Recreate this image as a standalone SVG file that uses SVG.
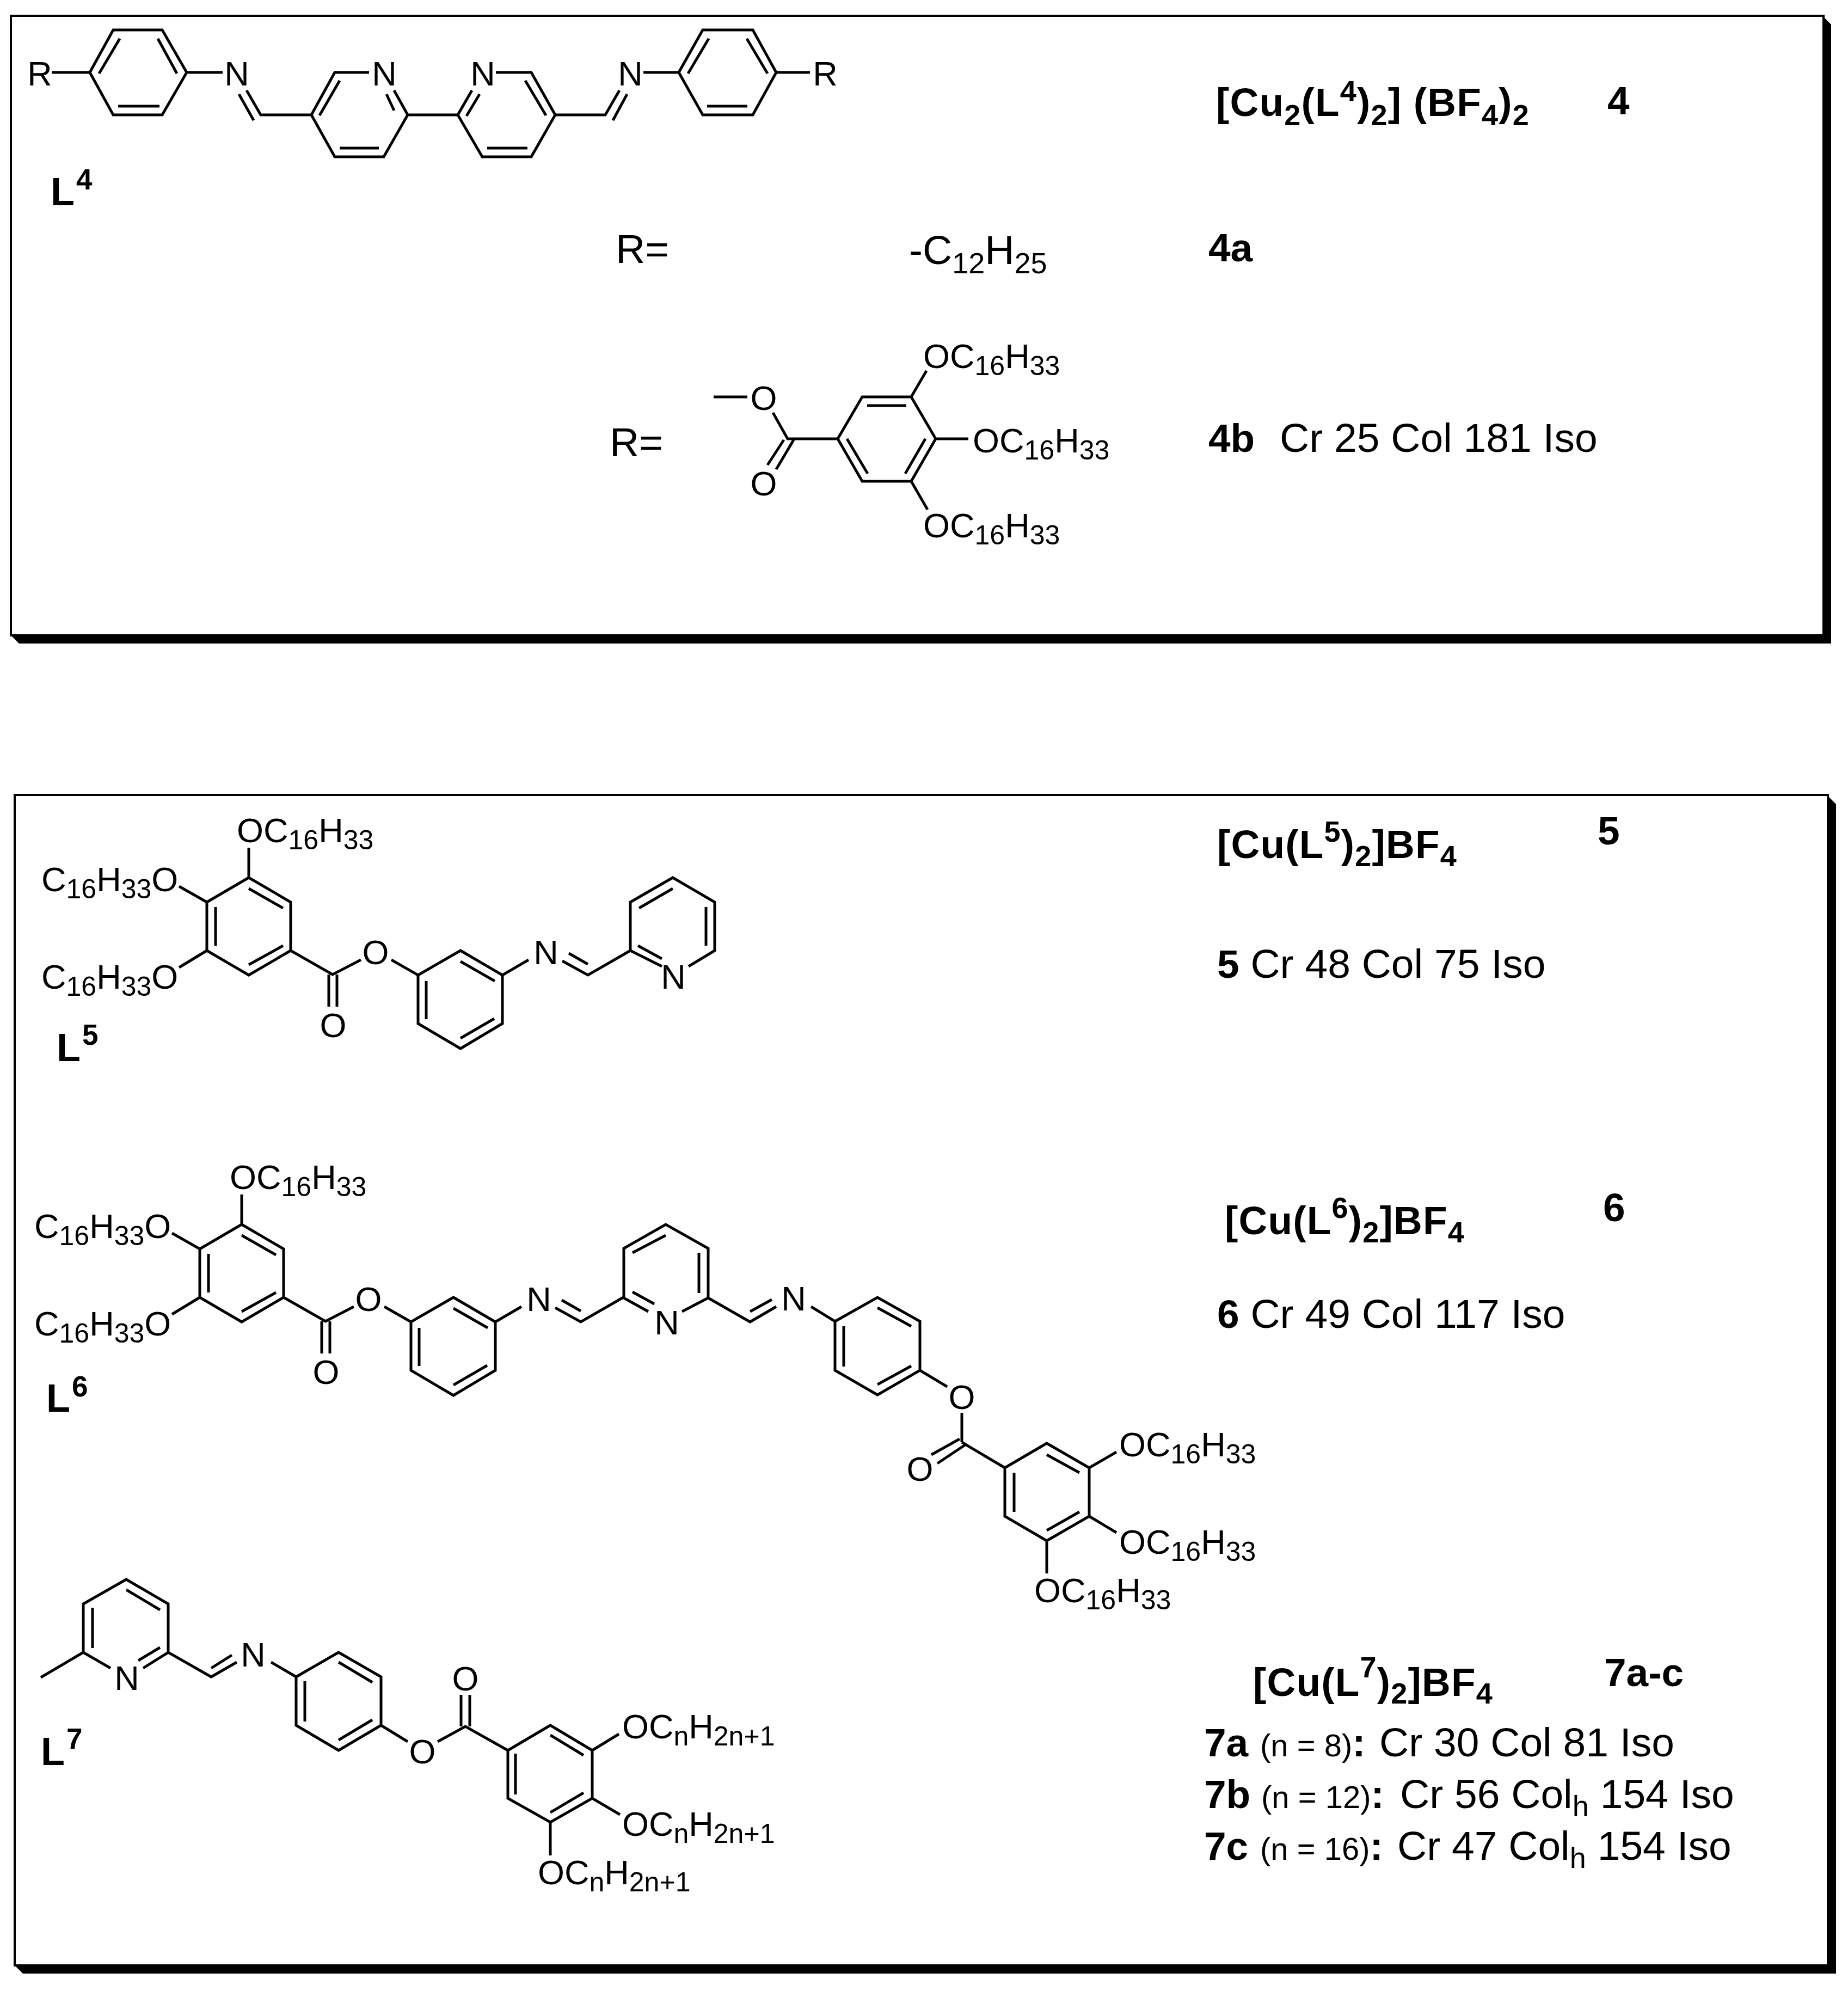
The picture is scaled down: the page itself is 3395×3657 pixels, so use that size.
<svg xmlns="http://www.w3.org/2000/svg" width="3395" height="3657" viewBox="0 0 3395 3657">
<style>
text{font-family:"Liberation Sans",Arial,sans-serif;fill:#000}
.b{fill:none;stroke:#000;stroke-width:5;stroke-linecap:butt;stroke-linejoin:miter}
.f{fill:none;stroke:#000;stroke-width:4}
.c{font-size:63px}
.m{text-anchor:middle}
.s{font-size:50px}
.h{font-size:73px;font-weight:bold}
.w{letter-spacing:1.2px}
.t{font-size:75px}
.u{font-size:54px}
.l{font-size:72px;font-weight:bold}
.p{font-size:53px}
.q{font-size:58px;font-weight:normal}
.r{font-size:54px;font-weight:normal}
</style>
<g id="frame-top">
<rect class="f" x="20" y="29" width="3330" height="1138"/>
<polygon points="3348,29 3364,45 3364,1182 35,1182 20,1167 3348,1167"/>
</g>
<g id="frame-bottom">
<rect class="f" x="27" y="1460" width="3331" height="2150"/>
<polygon points="3356,1460 3373,1477 3373,3625 42,3625 27,3610 3356,3610"/>
</g>
<g id="L4">
<path class="b" d="M95 133H165L208 55H298L343 133L298 211H208L165 133M182 135L220 71M290 71L325 135M217 195H293M343 133H409M453 166L479 211H572L615 133H678M439 173L466 221M587 212L624 148M572 211L615 288H705L749 211L724 166M710 173L724 203M624 272H696M749 211H841L886 288H976L1020 211L976 133H911M841 211L867 166M857 213L881 173M965 148L1003 212M895 272H969M1020 211H1112L1138 166M1126 221L1152 173M1182 133H1247L1291 55H1383L1426 133L1383 211H1291L1247 133M1264 135L1302 71M1372 71L1410 135M1299 195H1373M1426 133H1488"/>
<text class="c m" x="73" y="157">R</text>
<text class="c m" x="435" y="157">N</text>
<text class="c m" x="706" y="157">N</text>
<text class="c m" x="887" y="157">N</text>
<text class="c m" x="1158" y="157">N</text>
<text class="c m" x="1516" y="157">R</text>
<text class="l" x="93" y="377">L<tspan class="p" dy="-29" dx="3">4</tspan></text>
</g>
<g id="R-4a">
<text class="t" x="1131" y="483">R=</text>
<text class="t" x="1670" y="485">-C<tspan class="r" dy="17">12</tspan><tspan dy="-17">H</tspan><tspan class="r" dy="17">25</tspan></text>
</g>
<g id="R-4b">
<text class="t" x="1120" y="838">R=</text>
<path class="b" d="M1311 729H1373M1420 758L1447 806H1539L1584 729H1674L1719 806L1674 884H1584L1539 806M1593 745H1665M1700 806L1663 870M1556 806L1594 870M1674 729L1702 681M1719 806H1779M1674 884L1704 936M1440 808L1410 854M1458 808L1426 862"/>
<text class="c m" x="1403" y="753">O</text>
<text class="c m" x="1403" y="910">O</text>
<text class="c" x="1696" y="676">OC<tspan class="s" dy="13">16</tspan><tspan dy="-13">H</tspan><tspan class="s" dy="13">33</tspan></text>
<text class="c" x="1787" y="831">OC<tspan class="s" dy="13">16</tspan><tspan dy="-13">H</tspan><tspan class="s" dy="13">33</tspan></text>
<text class="c" x="1696" y="987">OC<tspan class="s" dy="13">16</tspan><tspan dy="-13">H</tspan><tspan class="s" dy="13">33</tspan></text>
</g>
<g id="labels-4">
<text class="h w" x="2234" y="213">[Cu<tspan class="u" dy="17">2</tspan><tspan dy="-17">(L</tspan><tspan class="u" dy="-27">4</tspan><tspan dy="27">)</tspan><tspan class="u" dy="17">2</tspan><tspan dy="-17">] (BF</tspan><tspan class="u" dy="17">4</tspan><tspan dy="-17">)</tspan><tspan class="u" dy="17">2</tspan></text>
<text class="h" x="2953" y="210">4</text>
<text class="h" x="2220" y="480">4a</text>
<text class="t" x="2220" y="830"><tspan class="h">4b</tspan><tspan x="2351">Cr 25 Col 181 Iso</tspan></text>
</g>
<g id="L5">
<path class="b" d="M457 1557V1612L534 1657V1746L457 1791L380 1746V1657L457 1612M457 1632L520 1668M520 1737L457 1772M396 1666V1737M329 1628L380 1657M380 1746L329 1777M534 1746L611 1790L663 1763M719 1763L768 1791L846 1746L923 1791V1880L846 1926L768 1880V1791M846 1766L909 1802M783 1802V1872M908 1871L846 1907M604 1790V1849M619 1790V1849M923 1791L971 1763M1033 1765L1080 1791L1158 1746V1657L1236 1612L1313 1657V1746L1265 1775M1045 1751L1080 1771M1158 1746L1216 1775M1172 1737L1216 1761M1174 1668L1236 1632M1297 1666V1737"/>
<text class="c" x="435" y="1547">OC<tspan class="s" dy="13">16</tspan><tspan dy="-13">H</tspan><tspan class="s" dy="13">33</tspan></text>
<text class="c" x="76" y="1637">C<tspan class="s" dy="13">16</tspan><tspan dy="-13">H</tspan><tspan class="s" dy="13">33</tspan><tspan dy="-13">O</tspan></text>
<text class="c" x="76" y="1816">C<tspan class="s" dy="13">16</tspan><tspan dy="-13">H</tspan><tspan class="s" dy="13">33</tspan><tspan dy="-13">O</tspan></text>
<text class="c m" x="690" y="1771">O</text>
<text class="c m" x="612" y="1905">O</text>
<text class="c m" x="1003" y="1771">N</text>
<text class="c m" x="1237" y="1816">N</text>
<text class="l" x="104" y="1949">L<tspan class="p" dy="-30" dx="3">5</tspan></text>
</g>
<g id="labels-5">
<text class="h w" x="2236" y="1576">[Cu(L<tspan class="u" dy="-30">5</tspan><tspan dy="30">)</tspan><tspan class="u" dy="15">2</tspan><tspan dy="-15">]BF</tspan><tspan class="u" dy="15">4</tspan></text>
<text class="h" x="2935" y="1551">5</text>
<text class="t" x="2236" y="1796"><tspan class="h">5</tspan> Cr 48 Col 75 Iso</text>
</g>
<g id="L6">
<g transform="translate(-13,637)">
<path class="b" d="M457 1557V1612L534 1657V1746L457 1791L380 1746V1657L457 1612M457 1632L520 1668M520 1737L457 1772M396 1666V1737M329 1628L380 1657M380 1746L329 1777M534 1746L611 1790L663 1763M719 1763L768 1791L846 1746L923 1791V1880L846 1926L768 1880V1791M846 1766L909 1802M783 1802V1872M908 1871L846 1907M604 1790V1849M619 1790V1849M923 1791L971 1763M1033 1765L1080 1791L1158 1746M1045 1751L1080 1771"/>
<text class="c" x="435" y="1547">OC<tspan class="s" dy="13">16</tspan><tspan dy="-13">H</tspan><tspan class="s" dy="13">33</tspan></text>
<text class="c" x="76" y="1637">C<tspan class="s" dy="13">16</tspan><tspan dy="-13">H</tspan><tspan class="s" dy="13">33</tspan><tspan dy="-13">O</tspan></text>
<text class="c" x="76" y="1816">C<tspan class="s" dy="13">16</tspan><tspan dy="-13">H</tspan><tspan class="s" dy="13">33</tspan><tspan dy="-13">O</tspan></text>
<text class="c m" x="690" y="1771">O</text>
<text class="c m" x="612" y="1905">O</text>
<text class="c m" x="1003" y="1771">N</text>
</g>
<path class="b" d="M1146 2384V2293L1223 2249L1301 2293V2384L1253 2409M1146 2384L1191 2409M1162 2301L1223 2269M1284 2301V2375M1162 2373L1202 2395M1301 2384L1378 2428L1426 2400M1378 2409L1418 2387M1490 2400L1534 2427L1612 2383L1690 2427V2517L1612 2562L1534 2517V2427M1612 2402L1674 2436M1550 2436V2510M1612 2543L1674 2509M1690 2517L1740 2547M1767 2595V2649M1763 2643L1711 2672M1776 2652L1722 2688M1767 2649L1846 2696L1923 2651L2001 2696V2785L1923 2830L1846 2785V2696M1923 2672L1983 2705M1863 2705V2777M1923 2811L1983 2777M2001 2696L2051 2667M2001 2785L2051 2815M1923 2830V2890"/>
<text class="c m" x="1225" y="2451">N</text>
<text class="c m" x="1458" y="2407">N</text>
<text class="c m" x="1767" y="2588">O</text>
<text class="c m" x="1690" y="2720">O</text>
<text class="c" x="2056" y="2675">OC<tspan class="s" dy="13">16</tspan><tspan dy="-13">H</tspan><tspan class="s" dy="13">33</tspan></text>
<text class="c" x="2056" y="2854">OC<tspan class="s" dy="13">16</tspan><tspan dy="-13">H</tspan><tspan class="s" dy="13">33</tspan></text>
<text class="c" x="1900" y="2943">OC<tspan class="s" dy="13">16</tspan><tspan dy="-13">H</tspan><tspan class="s" dy="13">33</tspan></text>
<text class="l" x="85" y="2593">L<tspan class="p" dy="-28" dx="3">6</tspan></text>
</g>
<g id="labels-6">
<text class="h w" x="2250" y="2267">[Cu(L<tspan class="u" dy="-30">6</tspan><tspan dy="30">)</tspan><tspan class="u" dy="15">2</tspan><tspan dy="-15">]BF</tspan><tspan class="u" dy="15">4</tspan></text>
<text class="h" x="2945" y="2243">6</text>
<text class="t" x="2236" y="2439"><tspan class="h">6</tspan> Cr 49 Col 117 Iso</text>
</g>
<g id="L7">
<path class="b" d="M75 3081L153 3035V2946L232 2901L309 2946V3035L263 3064M153 3035L203 3064M170 2953V3027M232 2920L294 2957M254 3050L294 3026M309 3035L388 3080L435 3053M388 3064L426 3040M498 3053L544 3080L622 3035L700 3080V3169L622 3215L544 3169V3080M622 3053L684 3090M560 3088V3162M622 3196L684 3159M700 3169L749 3199M804 3199L855 3171L933 3215L1011 3169L1088 3215V3303L1011 3347L933 3303V3215M847 3113V3171M863 3113V3171M1011 3187L1072 3224M947 3221V3296M1011 3329L1072 3293M1088 3215L1137 3185M1088 3303L1139 3333M1011 3347V3408"/>
<text class="c m" x="233" y="3104">N</text>
<text class="c m" x="465" y="3061">N</text>
<text class="c m" x="776" y="3239">O</text>
<text class="c m" x="855" y="3105">O</text>
<text class="c" x="1143" y="3193">OC<tspan class="s" dy="13">n</tspan><tspan dy="-13">H</tspan><tspan class="s" dy="13">2n+1</tspan></text>
<text class="c" x="1143" y="3372">OC<tspan class="s" dy="13">n</tspan><tspan dy="-13">H</tspan><tspan class="s" dy="13">2n+1</tspan></text>
<text class="c" x="988" y="3461">OC<tspan class="s" dy="13">n</tspan><tspan dy="-13">H</tspan><tspan class="s" dy="13">2n+1</tspan></text>
<text class="l" x="75" y="3242">L<tspan class="p" dy="-30" dx="3">7</tspan></text>
</g>
<g id="labels-7">
<text class="h w" x="2302" y="3115">[Cu(L<tspan class="u" dy="-34">7</tspan><tspan dy="34">)</tspan><tspan class="u" dy="14">2</tspan><tspan dy="-14">]BF</tspan><tspan class="u" dy="14">4</tspan></text>
<text class="h" x="2947" y="3097">7a-c</text>
<text class="t" x="2212" y="3226"><tspan class="h">7a</tspan><tspan class="q" x="2315">(n = 8)</tspan><tspan class="h">:</tspan><tspan x="2534">Cr 30 Col 81 Iso</tspan></text>
<text class="t" x="2212" y="3321"><tspan class="h">7b</tspan><tspan class="q" x="2317">(n = 12)</tspan><tspan class="h">:</tspan><tspan x="2572">Cr 56 Col</tspan><tspan class="u" dy="15">h</tspan><tspan dy="-15"> 154 Iso</tspan></text>
<text class="t" x="2212" y="3416"><tspan class="h">7c</tspan><tspan class="q" x="2315">(n = 16)</tspan><tspan class="h">:</tspan><tspan x="2567">Cr 47 Col</tspan><tspan class="u" dy="15">h</tspan><tspan dy="-15"> 154 Iso</tspan></text>
</g>
</svg>
